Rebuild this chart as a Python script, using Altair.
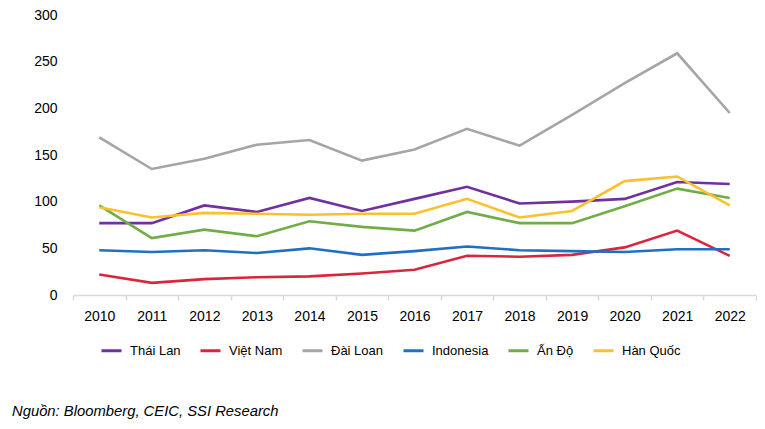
import altair as alt
import pandas as pd

years = [str(y) for y in range(2010, 2023)]
series_names = ["Thái Lan", "Việt Nam", "Đài Loan", "Indonesia", "Ấn Độ", "Hàn Quốc"]
thai_lan = [77, 77, 96, 89, 104, 90, 103, 116, 98, 100, 103, 121, 119]
viet_nam = [22, 13, 17, 19, 20, 23, 27, 42, 41, 43, 51, 69, 42]
dai_loan = [169, 135, 146, 161, 166, 144, 156, 178, 160, 193, 227, 259, 195]
indonesia = [48, 46, 48, 45, 50, 43, 47, 52, 48, 47, 46, 49, 49]
an_do = [96, 61, 70, 63, 79, 73, 69, 89, 77, 77, 95, 114, 104]
han_quoc = [94, 83, 88, 87, 86, 87, 87, 103, 83, 90, 122, 127, 96]
colors = ["#7030A0", "#D9263A", "#A5A5A5", "#1F6FC5", "#70AD47", "#FBC02D"]
source_text = "Nguồn: Bloomberg, CEIC, SSI Research"

all_series = [thai_lan, viet_nam, dai_loan, indonesia, an_do, han_quoc]
rows = []
for name, vals in zip(series_names, all_series):
    for y, v in zip(years, vals):
        rows.append({"Năm": y, "Giá trị": v, "Quốc gia": name})
df = pd.DataFrame(rows)

FONT = "Liberation Sans, Arial, sans-serif"

lines = alt.Chart(df).mark_line(strokeWidth=2.6).encode(
    x=alt.X("Năm:N", bandPosition=0.5,
            scale=alt.Scale(type="band", domain=years, paddingInner=0, paddingOuter=0),
            axis=alt.Axis(title=None, labelAngle=0, tickBand="extent", domain=True,
                          domainColor="#D9D9D9", domainWidth=1.5, tickColor="#D9D9D9",
                          tickWidth=1.5, tickSize=5, labelPadding=9, grid=False,
                          labelFontSize=14, labelFont=FONT, labelColor="#000000")),
    y=alt.Y("Giá trị:Q", scale=alt.Scale(domain=[0, 300], nice=False),
            axis=alt.Axis(title=None, values=[0, 50, 100, 150, 200, 250, 300],
                          domain=False, ticks=False, grid=False, labelPadding=16,
                          labelFontSize=14, labelFont=FONT, labelColor="#000000")),
    color=alt.Color("Quốc gia:N",
                    scale=alt.Scale(domain=series_names, range=colors),
                    sort=series_names,
                    legend=alt.Legend(title=None, orient="none", direction="horizontal",
                                      legendX=27, legendY=324, symbolType="stroke",
                                      symbolSize=400, symbolStrokeWidth=3,
                                      labelFontSize=13, labelFont=FONT, labelColor="#000000",
                                      labelOffset=7, columnPadding=13)),
)

src = alt.Chart(pd.DataFrame({"t": [source_text]})).mark_text(
    align="left", baseline="middle", fontStyle="italic", fontSize=14.8,
    font=FONT, color="#000000"
).encode(text="t:N", x=alt.value(-61), y=alt.value(397))

chart = alt.layer(lines, src).properties(
    width=683, height=280,
    autosize=alt.AutoSizeParams(type="none"),
    padding={"left": 65, "top": 7, "right": 1, "bottom": 125},
).configure_view(stroke=None)

chart.save("out.html", embed_options={"renderer": "svg", "actions": False})
